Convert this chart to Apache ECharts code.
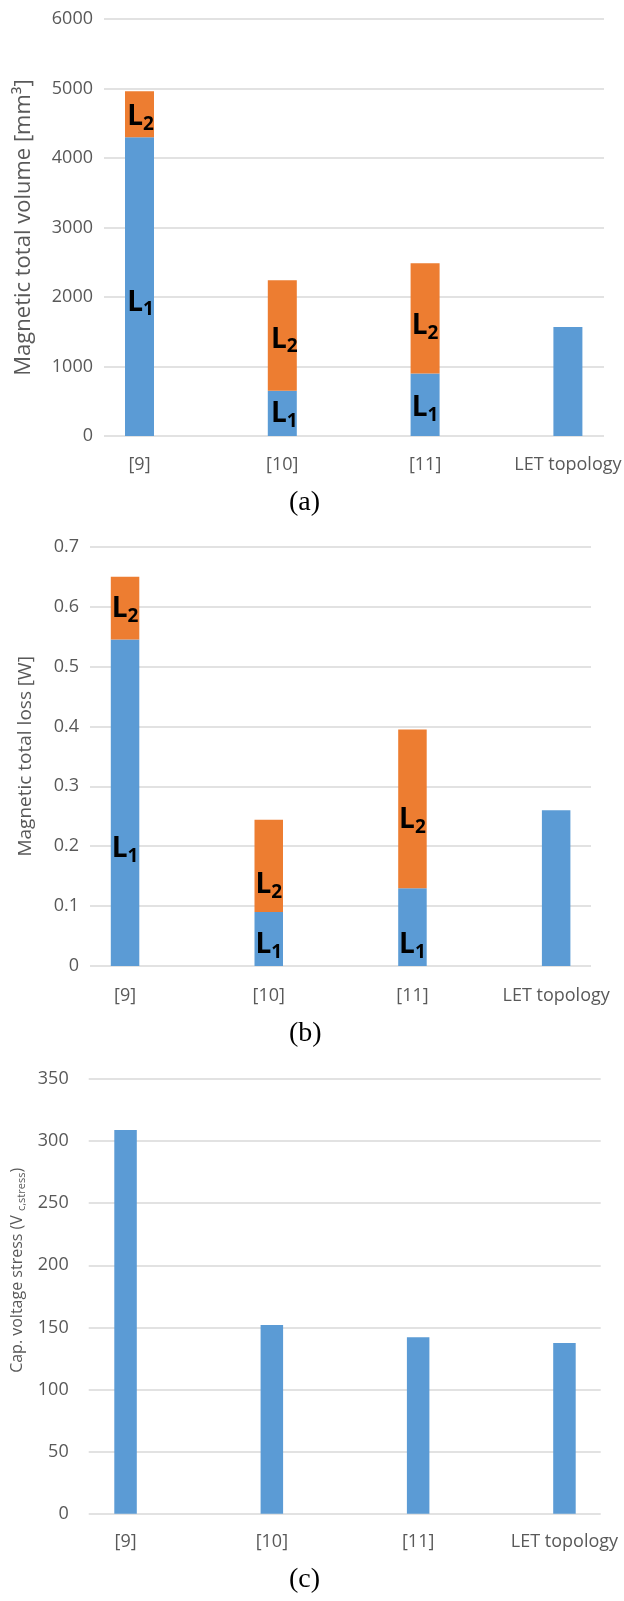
<!DOCTYPE html>
<html>
<head>
<meta charset="utf-8">
<title>Magnetic volume, loss and capacitor voltage stress</title>
<script src="https://cdn.jsdelivr.net/npm/echarts@6/dist/echarts.min.js"></script>
<style>
    html, body { margin: 0; padding: 0; background: #fff; }
    #chart-container { width: 624px; height: 1601px; }
</style>
</head>
<body>
<div id="chart-container"></div>
<script>
const categories = ['[9]', '[10]', '[11]', 'LET topology'];

// (a) magnetic total volume [mm3]
const volumeL1 = [4300, 650, 900, 1570];
const volumeL2 = [660, 1590, 1585, null];
const volumeAxis = { min: 0, max: 6000, interval: 1000 };

// (b) magnetic total loss [W]
const lossL1 = [0.545, 0.09, 0.13, 0.26];
const lossL2 = [0.105, 0.154, 0.265, null];
const lossAxis = { min: 0, max: 0.7, interval: 0.1 };

// (c) capacitor voltage stress
const capStress = [309, 152, 142, 137.5];
const capAxis = { min: 0, max: 350, interval: 50 };

const captions = ['(a)', '(b)', '(c)'];

const BLUE = '#5B9BD5';
const ORANGE = '#ED7D31';
const GRID_COLOR = '#D9D9D9';
const TEXT_COLOR = '#595959';
const FONT = '"Open Sans", "Noto Sans", sans-serif';

// gridlines run lineLeft..lineRight, the bars sit on a wider band (like the excel original)
const layout = [
    { top: 19, bottom: 436, lineLeft: 104, lineRight: 604, barLeft: 68.1, barStep: 142.8, barWidth: 29,
      xMargin: 20, yMargin: 11, nameGap: 69, nameSize: 22, namePad: [0, 0, 0, 0], captionTop: 489 },
    { top: 546.7, bottom: 966, lineLeft: 90, lineRight: 591, barLeft: 53.2, barStep: 143.7, barWidth: 28.5,
      xMargin: 21, yMargin: 11, nameGap: 55, nameSize: 19, namePad: [0, 0, 0, 0], captionTop: 1020 },
    { top: 1079, bottom: 1513.7, lineLeft: 88.7, lineRight: 600.7, barLeft: 52.4, barStep: 146.3, barWidth: 22.5,
      xMargin: 19, yMargin: 20, nameGap: 56, nameSize: 16, namePad: [0, 0, 0, 52], captionTop: 1566 }
];

// label nudges for the L1 / L2 tags (null = no tag)
const tagOffsets = {
    volumeL1: [[1, 16], [2, 1], [0, 3], null],
    volumeL2: [[1, 3], [2, 4], [0, 8], null],
    lossL1: [[0, 46], [0, 6], [0, 18], null],
    lossL2: [[0, 1], [0, 19], [0, 11], null]
};

const axisNames = [
    'Magnetic total volume [mm³]',
    'Magnetic total loss [W]',
    'Cap. voltage stress (V {sub|c,stress})'
];
const axisRanges = [volumeAxis, lossAxis, capAxis];

const tagRich = {
    L: { fontSize: 28, fontWeight: 'bold', color: '#000', fontFamily: FONT },
    s: { fontSize: 19, fontWeight: 'bold', color: '#000', fontFamily: FONT, verticalAlign: 'bottom', padding: [15, 0, 0, 0] }
};

const tagged = (values, sub, offsets) => values.map((v, i) => ({
    value: v,
    label: offsets[i]
        ? { show: true, position: 'inside', offset: offsets[i], formatter: `{L|L}{s|${sub}}`, rich: tagRich }
        : { show: false }
}));

const grid = [];
const xAxis = [];
const yAxis = [];
const title = [];

layout.forEach((p, i) => {
    const h = p.bottom - p.top;
    const range = axisRanges[i];
    // background grid: gridlines + y labels + axis name
    grid.push({ left: p.lineLeft, top: p.top, width: p.lineRight - p.lineLeft, height: h,
        containLabel: false, outerBoundsMode: 'none' });
    // bar grid
    grid.push({ left: p.barLeft, top: p.top, width: p.barStep * categories.length, height: h,
        containLabel: false, outerBoundsMode: 'none' });

    xAxis.push({ type: 'value', gridIndex: 2 * i, min: 0, max: 1, show: false });
    xAxis.push({
        type: 'category', gridIndex: 2 * i + 1, data: categories,
        axisLine: { show: false }, axisTick: { show: false },
        axisLabel: { color: TEXT_COLOR, fontSize: 18, fontFamily: FONT, margin: p.xMargin, interval: 0 }
    });

    yAxis.push({
        type: 'value', gridIndex: 2 * i, min: range.min, max: range.max, interval: range.interval,
        axisLine: { show: false }, axisTick: { show: false },
        axisLabel: {
            color: TEXT_COLOR, fontSize: 18, fontFamily: FONT, margin: p.yMargin,
            formatter: (v) => String(Math.round(v * 1000) / 1000)   // no thousands separator
        },
        splitLine: { lineStyle: { color: GRID_COLOR, width: 1.5 } },
        name: axisNames[i], nameLocation: 'middle', nameGap: p.nameGap,
        nameTextStyle: {
            color: TEXT_COLOR, fontSize: p.nameSize, fontFamily: FONT, padding: p.namePad,
            rich: { sub: { fontSize: 11, color: TEXT_COLOR, fontFamily: FONT, verticalAlign: 'bottom', padding: [7, 0, 0, 0] } }
        }
    });
    yAxis.push({ type: 'value', gridIndex: 2 * i + 1, min: range.min, max: range.max, show: false });

    title.push({
        text: captions[i], left: 289, top: p.captionTop, padding: 0,
        textStyle: { fontFamily: '"Liberation Serif", "DejaVu Serif", serif', fontSize: 28, fontWeight: 'normal', color: '#000' }
    });
});

const myChart = echarts.init(document.getElementById('chart-container'), null, { renderer: 'canvas' });

myChart.setOption({
    animation: false,
    backgroundColor: '#fff',
    title,
    grid,
    xAxis,
    yAxis,
    series: [
        { name: 'L1', type: 'bar', stack: 'vol', xAxisIndex: 1, yAxisIndex: 1, barWidth: layout[0].barWidth,
          itemStyle: { color: BLUE }, data: tagged(volumeL1, '1', tagOffsets.volumeL1) },
        { name: 'L2', type: 'bar', stack: 'vol', xAxisIndex: 1, yAxisIndex: 1, barWidth: layout[0].barWidth,
          itemStyle: { color: ORANGE }, data: tagged(volumeL2, '2', tagOffsets.volumeL2) },
        { name: 'L1', type: 'bar', stack: 'loss', xAxisIndex: 3, yAxisIndex: 3, barWidth: layout[1].barWidth,
          itemStyle: { color: BLUE }, data: tagged(lossL1, '1', tagOffsets.lossL1) },
        { name: 'L2', type: 'bar', stack: 'loss', xAxisIndex: 3, yAxisIndex: 3, barWidth: layout[1].barWidth,
          itemStyle: { color: ORANGE }, data: tagged(lossL2, '2', tagOffsets.lossL2) },
        { name: 'Vc', type: 'bar', xAxisIndex: 5, yAxisIndex: 5, barWidth: layout[2].barWidth,
          itemStyle: { color: BLUE }, data: capStress }
    ]
});

window.addEventListener('resize', () => {
    myChart.resize();
});
</script>
</body>
</html>
